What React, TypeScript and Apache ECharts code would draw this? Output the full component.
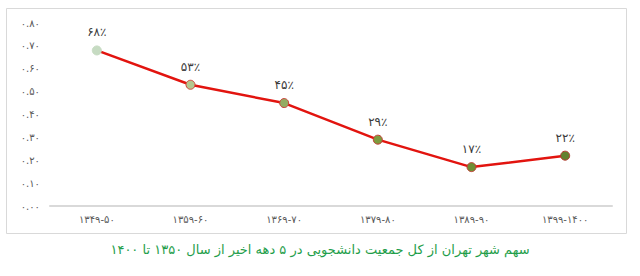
import React, { useEffect, useRef } from "react";
import * as echarts from "echarts";

const categories = ["۱۳۴۹-۵۰", "۱۳۵۹-۶۰", "۱۳۶۹-۷۰", "۱۳۷۹-۸۰", "۱۳۸۹-۹۰", "۱۳۹۹-۱۴۰۰"];
const shares = [0.68, 0.53, 0.45, 0.29, 0.17, 0.22];
const pointColors = ["#c6dbc2", "#b4c78e", "#94ac62", "#7d9b3e", "#6f8e34", "#63812e"];
const pointBorders = ["#c6dbc2", "#d0463a", "#c9443a", "#c23d33", "#c23d33", "#b53a30"];
const caption = "سهم شهر تهران از کل جمعیت دانشجویی در ۵ دهه اخیر از سال ۱۳۵۰ تا ۱۴۰۰";

const fa = (s: string) => s.replace(/[0-9]/g, (d) => "۰۱۲۳۴۵۶۷۸۹"[Number(d)]);

export default function App() {
  const ref = useRef<HTMLDivElement>(null);
  useEffect(() => {
    document.body.style.margin = "0";
    const chart = echarts.init(ref.current!, null, { renderer: "svg" });
    chart.setOption({
      animation: false,
      textStyle: { fontFamily: "DejaVu Sans" },
      grid: { left: 50, right: 28, top: 23, bottom: 70 },
      graphic: [
        {
          type: "rect",
          shape: { x: 6.5, y: 8.5, width: 620, height: 225 },
          style: { fill: "none", stroke: "#d9d9d9", lineWidth: 1 },
          silent: true,
        },
        {
          type: "text",
          left: "center",
          top: 243,
          style: {
            text: caption,
            fill: "#1f9e4a",
            font: "13px 'DejaVu Sans'",
          },
        },
      ],
      xAxis: {
        type: "category",
        data: categories,
        boundaryGap: true,
        axisLine: { lineStyle: { color: "#d9d9d9", width: 2 } },
        axisTick: { show: false },
        axisLabel: { color: "#595959", fontSize: 10, margin: 8 },
      },
      yAxis: {
        type: "value",
        min: 0,
        max: 0.8,
        interval: 0.1,
        axisLine: { show: false },
        axisTick: { show: false },
        splitLine: { show: false },
        axisLabel: {
          color: "#595959",
          fontSize: 10,
          margin: 10,
          formatter: (v: number) => fa(v.toFixed(2)),
        },
      },
      series: [
        {
          type: "line",
          data: shares.map((v, i) => ({
            value: v,
            itemStyle: { color: pointColors[i], borderColor: pointBorders[i], borderWidth: 1 },
          })),
          symbol: "circle",
          symbolSize: 9,
          lineStyle: { color: "#e2140f", width: 2.5 },
          label: {
            show: true,
            position: "top",
            distance: 7,
            color: "#3a3a3a",
            fontSize: 12,
            fontWeight: "normal",
            formatter: (p: any) => fa(String(Math.round(p.value * 100))) + "٪",
          },
        },
      ],
    });
    return () => chart.dispose();
  }, []);
  return <div ref={ref} style={{ width: 640, height: 276 }} />;
}
